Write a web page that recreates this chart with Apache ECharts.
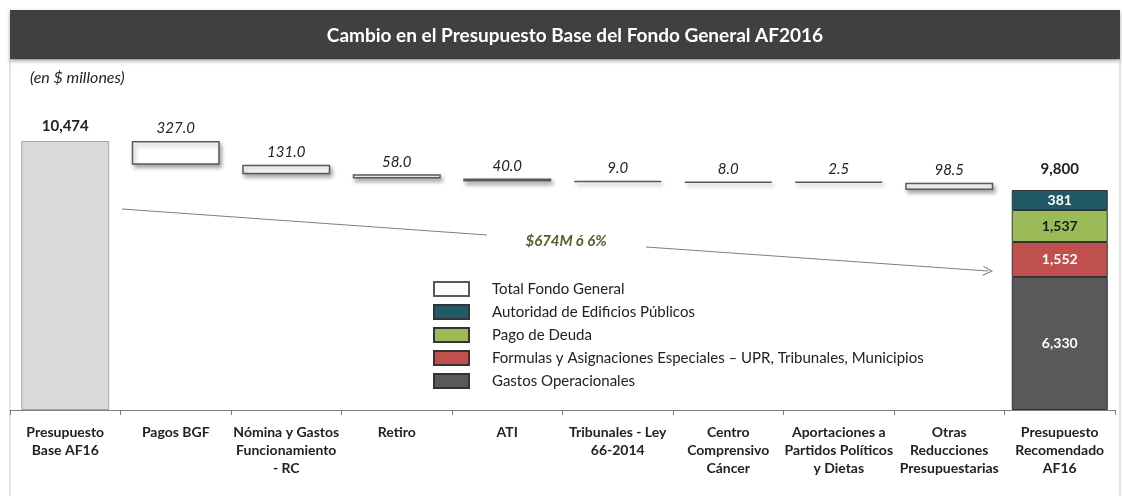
<!DOCTYPE html>
<html>
<head>
<meta charset="utf-8">
<script src="https://cdn.jsdelivr.net/npm/echarts@6/dist/echarts.min.js"></script>
<style>
  html, body { margin: 0; padding: 0; background: #fff; }
  #chart { width: 1122px; height: 496px; }
</style>
</head>
<body>
<div id="chart"></div>
<script>
// datos (en $ millones)
var categories = [
  'Presupuesto\nBase AF16',
  'Pagos BGF',
  'Nómina y Gastos\nFuncionamiento\n- RC',
  'Retiro',
  'ATI',
  'Tribunales - Ley\n66-2014',
  'Centro\nComprensivo\nCáncer',
  'Aportaciones a\nPartidos Políticos\ny Dietas',
  'Otras\nReducciones\nPresupuestarias',
  'Presupuesto\nRecomendado\nAF16'
];
var baseBudget = 10474;
var reductions = [327.0, 131.0, 58.0, 40.0, 9.0, 8.0, 2.5, 98.5];
var segmentNames = [
  'Gastos Operacionales',
  'Formulas y Asignaciones Especiales – UPR, Tribunales, Municipios',
  'Pago de Deuda',
  'Autoridad de Edificios Públicos'
];
var segmentValues = [6330, 1552, 1537, 381];
var segmentColors = ['#595959', '#c0504d', '#9bbb59', '#215967'];
var segmentLabelColors = ['#fff', '#fff', '#1a1a1a', '#fff'];

var fmt = function (v) { return Math.round(v).toLocaleString('en-US'); };
var last = categories.length - 1;

// escalera del waterfall
var helper = ['-'], deltas = ['-'], running = baseBudget;
reductions.forEach(function (r) {
  running -= r;
  helper.push(running);
  deltas.push(r);
});
helper.push('-'); deltas.push('-');
var baseData = categories.map(function (c, i) { return i === 0 ? baseBudget : '-'; });
var total = segmentValues.reduce(function (a, b) { return a + b; }, 0);
var totalData = categories.map(function (c, i) { return i === last ? total : '-'; });
var change = baseBudget - total;
var changeText = '$' + fmt(change) + 'M ó ' + Math.round(change / baseBudget * 100) + '%';

var txt = '#222';
var font = 'Lato';

var series = [
  {
    name: 'helper', type: 'bar', stack: 'wf', barWidth: 88, silent: true,
    itemStyle: { color: 'transparent' }, data: helper
  },
  {
    name: 'Total Fondo General', type: 'bar', stack: 'wf', barWidth: 88, barMinHeight: 1,
    itemStyle: {
      color: '#ffffff', borderColor: '#595959', borderWidth: 1.5,
      shadowColor: 'rgba(0,0,0,0.35)', shadowBlur: 4, shadowOffsetX: 2, shadowOffsetY: 3
    },
    label: {
      show: true, position: 'top', distance: 5, fontStyle: 'italic', fontSize: 15,
      fontFamily: font, color: txt,
      formatter: function (p) { return p.value.toFixed(1); }
    },
    data: deltas
  },
  {
    name: 'base', type: 'bar', stack: 'wf', barWidth: 88,
    itemStyle: { color: '#d9d9d9', borderColor: '#a6a6a6', borderWidth: 1 },
    label: {
      show: true, position: 'top', distance: 7, fontWeight: 'bold', fontSize: 15,
      fontFamily: font, color: txt, formatter: function (p) { return fmt(p.value); }
    },
    data: baseData
  },
  {
    name: 'total', type: 'bar', xAxisIndex: 1, barWidth: 96, barGap: '-100%', silent: true, z: 1,
    itemStyle: { color: 'transparent' },
    label: {
      show: true, position: 'top', distance: 13, fontWeight: 'bold', fontSize: 15,
      fontFamily: font, color: txt, formatter: function (p) { return fmt(p.value); }
    },
    data: totalData
  }
];

segmentNames.forEach(function (name, k) {
  series.push({
    name: name, type: 'bar', stack: 'final', xAxisIndex: 1, barWidth: 96, z: 3,
    itemStyle: { color: segmentColors[k], borderColor: '#333', borderWidth: 1 },
    label: {
      show: true, position: 'inside', fontWeight: 'bold', fontSize: 14,
      fontFamily: font, color: segmentLabelColors[k],
      formatter: function (p) { return fmt(p.value); }
    },
    data: categories.map(function (c, i) { return i === last ? segmentValues[k] : '-'; })
  });
});

// flecha de cambio
series[0].markLine = {
  silent: true, animation: false,
  lineStyle: { color: '#7f7f7f', width: 1.2, type: 'solid' },
  label: { show: false },
  symbolSize: 10,
  data: [
    [{ x: 122, y: 209, symbol: 'none' }, { x: 487, y: 235, symbol: 'none' }],
    [{ x: 646, y: 247, symbol: 'none' },
     { x: 988, y: 271, symbol: 'path://M5,0 L10,10 L8.8,10 L5,2.4 L1.2,10 L0,10 Z' }]
  ]
};

var chart = echarts.init(document.getElementById('chart'));
chart.setOption({
  animation: false,
  backgroundColor: '#fff',
  title: {
    text: 'Cambio en el Presupuesto Base del Fondo General AF2016',
    left: 570, top: 21, textAlign: 'center',
    textStyle: { color: '#fff', fontSize: 19, fontWeight: 'bold', fontFamily: font }
  },
  graphic: [
    {
      type: 'rect', z: -10, silent: true,
      shape: { x: 10, y: 59, width: 1110, height: 440 },
      style: { fill: '#fff', stroke: '#c8c8c8', lineWidth: 1 }
    },
    {
      type: 'rect', z: -5, silent: true,
      shape: { x: 10, y: 10, width: 1110, height: 49 },
      style: { fill: '#404040', shadowColor: 'rgba(0,0,0,0.35)', shadowBlur: 4, shadowOffsetY: 2 }
    },
    {
      type: 'text', left: 30, top: 70, silent: true,
      style: { text: '(en $ millones)', fontStyle: 'italic', fontSize: 16, fontFamily: font, fill: txt }
    },
    {
      type: 'text', x: 566, y: 241, silent: true,
      style: {
        text: changeText, fontStyle: 'italic', fontWeight: 'bold', fontSize: 15,
        fontFamily: font, fill: '#4f6228', align: 'center', verticalAlign: 'middle'
      }
    }
  ],
  legend: {
    orient: 'vertical', left: 433, top: 281, padding: 0,
    itemWidth: 35, itemHeight: 14, itemGap: 7, icon: 'rect',
    textStyle: { fontSize: 15, fontFamily: font, color: txt, padding: [0, 0, 0, 18] },
    data: ['Total Fondo General', 'Autoridad de Edificios Públicos', 'Pago de Deuda',
      'Formulas y Asignaciones Especiales – UPR, Tribunales, Municipios', 'Gastos Operacionales']
  },
  grid: { left: 10, right: 7, top: 141, bottom: 86 },
  xAxis: [
    {
      type: 'category', data: categories,
      axisLine: { lineStyle: { color: '#7f7f7f', width: 1 } },
      axisTick: { show: true, interval: 0, length: 5, lineStyle: { color: '#7f7f7f' } },
      axisLabel: {
        interval: 0, margin: 13, fontSize: 14, fontWeight: 'bold', lineHeight: 18,
        fontFamily: font, color: txt
      }
    },
    { type: 'category', data: categories, show: false }
  ],
  yAxis: {
    type: 'value', show: false, min: 0, max: baseBudget,
    splitLine: { show: false },
    // escala comprimida como en el original (no proporcional)
    breaks: [
      { start: 900, end: 5401, gap: 0 },
      { start: 6600, end: 7671, gap: 0 },
      { start: 8100, end: 9197, gap: 0 },
      { start: 9500, end: 9606, gap: 0 }
    ],
    breakArea: { show: false }
  },
  series: series
});
</script>
</body>
</html>
